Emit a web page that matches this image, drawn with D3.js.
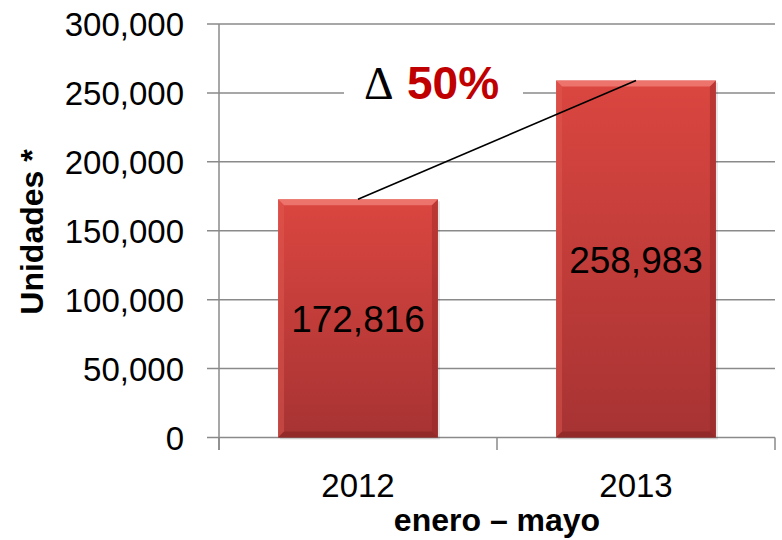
<!DOCTYPE html>
<html>
<head>
<meta charset="utf-8">
<script src="https://cdn.jsdelivr.net/npm/d3@7"></script>
<style>
  html, body { margin: 0; padding: 0; background: #fff; }
  svg { display: block; }
</style>
</head>
<body>
<script>
const categories = ["2012", "2013"];
const values = [172816, 258983];
const yTicks = [0, 50000, 100000, 150000, 200000, 250000, 300000];
const changeLabel = "50%";
const yTitle = "Unidades *";
const xTitle = "enero \u2013 mayo";

const W = 782, H = 540;
const svg = d3.select("body").append("svg").attr("width", W).attr("height", H);

const x = d3.scaleBand().domain(categories).range([219, 775])
  .paddingInner(0.425).paddingOuter(0.2125);
const y = d3.scaleLinear().domain([0, 300000]).range([437.5, 24]);
const fmt = d3.format(",");
const gray = "#8a8a8a";
const font = "'Liberation Sans', Arial, sans-serif";

// defs
const defs = svg.append("defs");
const g1 = defs.append("linearGradient").attr("id", "barFill").attr("x1", 0).attr("y1", 0).attr("x2", 0).attr("y2", 1);
g1.append("stop").attr("offset", "0%").attr("stop-color", "#db4640");
g1.append("stop").attr("offset", "100%").attr("stop-color", "#a73333");

// gridlines
svg.append("g").selectAll("line").data(yTicks).join("line")
  .attr("x1", 207).attr("x2", 775)
  .attr("y1", d => y(d)).attr("y2", d => y(d))
  .attr("stroke", gray).attr("stroke-width", 1.5);

// y axis line
svg.append("line").attr("x1", 219).attr("x2", 219).attr("y1", y(300000)).attr("y2", 450)
  .attr("stroke", gray).attr("stroke-width", 1.5);
// x axis ticks
const bounds = [219, (x(categories[0]) + x.bandwidth() + x(categories[1])) / 2, 775];
svg.append("g").selectAll("line").data(bounds).join("line")
  .attr("x1", d => d).attr("x2", d => d).attr("y1", y(0)).attr("y2", 450)
  .attr("stroke", gray).attr("stroke-width", 1.5);

// y tick labels
svg.append("g").selectAll("text").data(yTicks).join("text")
  .attr("x", 184).attr("y", d => y(d) + 12)
  .attr("text-anchor", "end")
  .attr("font-family", font).attr("font-size", 33).attr("fill", "#000")
  .text(d => fmt(d));

// bars with bevel
const bev = 6;
const bars = svg.append("g").selectAll("g").data(categories).join("g");
bars.each(function(c, i) {
  const g = d3.select(this);
  const x0 = x(c), x1 = x0 + x.bandwidth();
  const y0 = y(values[i]), y1 = y(0);
  g.append("rect").attr("x", x0 + 2).attr("y", y0 + 2).attr("width", x.bandwidth()).attr("height", y1 - y0)
    .attr("fill", "#000").attr("opacity", 0.1);
  g.append("rect").attr("x", x0).attr("y", y0).attr("width", x.bandwidth()).attr("height", y1 - y0)
    .attr("fill", "url(#barFill)");
  const poly = (pts, fill, op) => g.append("polygon")
    .attr("points", pts.map(p => p.join(",")).join(" "))
    .attr("fill", fill).attr("opacity", op);
  poly([[x0, y0], [x1, y0], [x1 - bev, y0 + bev], [x0 + bev, y0 + bev]], "#f08078", 0.8);
  poly([[x0, y0], [x0 + bev, y0 + bev], [x0 + bev, y1 - bev], [x0, y1]], "#e05a52", 0.45);
  poly([[x1, y0], [x1, y1], [x1 - bev, y1 - bev], [x1 - bev, y0 + bev]], "#8e2422", 0.4);
  poly([[x0, y1], [x0 + bev, y1 - bev], [x1 - bev, y1 - bev], [x1, y1]], "#7a1e1c", 0.45);
});

// bar value labels
svg.append("g").selectAll("text").data(categories).join("text")
  .attr("x", c => x(c) + x.bandwidth() / 2)
  .attr("y", (c, i) => (y(values[i]) + y(0)) / 2 + 13.5)
  .attr("text-anchor", "middle")
  .attr("font-family", font).attr("font-size", 37).attr("fill", "#000")
  .text((c, i) => fmt(values[i]));

// x tick labels
svg.append("g").selectAll("text").data(categories).join("text")
  .attr("x", c => x(c) + x.bandwidth() / 2).attr("y", 497)
  .attr("text-anchor", "middle")
  .attr("font-family", font).attr("font-size", 33).attr("fill", "#000")
  .text(c => c);

// connecting line
svg.append("line")
  .attr("x1", x(categories[0]) + x.bandwidth() / 2).attr("y1", y(values[0]))
  .attr("x2", x(categories[1]) + x.bandwidth() / 2).attr("y2", y(values[1]))
  .attr("stroke", "#000").attr("stroke-width", 1.6);

// delta label
svg.append("rect").attr("x", 344).attr("y", 58).attr("width", 179).attr("height", 52).attr("fill", "#fff");
svg.append("text").attr("x", 364).attr("y", 99)
  .attr("font-family", "'Liberation Serif', 'Times New Roman', serif")
  .attr("font-size", 46).attr("fill", "#000").text("\u0394");
svg.append("text").attr("x", 407).attr("y", 99)
  .attr("font-family", font).attr("font-weight", "bold")
  .attr("font-size", 46).attr("fill", "#c00000").text(changeLabel);

// axis titles
svg.append("text").attr("transform", "translate(43,232) rotate(-90)")
  .attr("text-anchor", "middle")
  .attr("font-family", font).attr("font-weight", "bold").attr("font-size", 32).attr("fill", "#000")
  .text(yTitle);
svg.append("text").attr("x", 497).attr("y", 531)
  .attr("text-anchor", "middle")
  .attr("font-family", font).attr("font-weight", "bold").attr("font-size", 32).attr("fill", "#000")
  .text(xTitle);
</script>
</body>
</html>
